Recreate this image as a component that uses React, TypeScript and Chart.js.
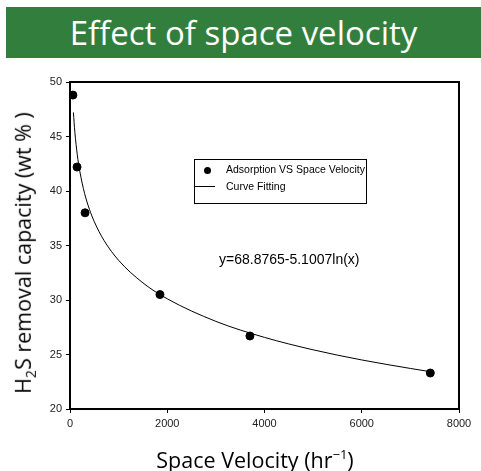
import React, { useEffect, useRef } from "react";
import { Chart, registerables } from "chart.js";

Chart.register(...registerables);

// Measured data (space velocity, hr^-1 ; H2S removal capacity, wt %)
const svPoints = [60, 145, 310, 1850, 3700, 7410];
const capacityPoints = [48.8, 42.2, 38.0, 30.5, 26.7, 23.3];

// Curve fitting line (y = 68.8765 - 5.1007 ln(x))
const fitX = [70, 100, 150, 200, 300, 400, 500, 700, 1000, 1500, 2000, 3000, 4000, 5000, 6000, 7000, 7400];
const fitY = [47.21, 45.39, 43.32, 41.85, 39.78, 38.32, 37.18, 35.46, 33.64, 31.57, 30.11, 28.04, 26.57, 25.43, 24.5, 23.72, 23.43];

const xTicks = [0, 2000, 4000, 6000, 8000];
const yTicks = [20, 25, 30, 35, 40, 45, 50];

const titleText = "Effect of space velocity";
const legendLabels = ["Adsorption VS Space Velocity", "Curve Fitting"];
const equationText = "y=68.8765-5.1007ln(x)";

const frame = {
  id: "frame",
  afterDatasetsDraw(chart: any) {
    const { ctx, chartArea } = chart;
    ctx.save();
    ctx.strokeStyle = "#000";
    ctx.lineWidth = 2;
    ctx.strokeRect(chartArea.left, chartArea.top, chartArea.right - chartArea.left, chartArea.bottom - chartArea.top);
    ctx.restore();
  },
};

export default function App() {
  const ref = useRef<HTMLCanvasElement | null>(null);

  useEffect(() => {
    if (!ref.current) return;
    const chart = new Chart(ref.current, {
      type: "scatter",
      data: {
        datasets: [
          {
            label: legendLabels[0],
            data: svPoints.map((x, i) => ({ x, y: capacityPoints[i] })),
            backgroundColor: "#000",
            borderColor: "#000",
            pointRadius: 4,
            pointHoverRadius: 4,
            showLine: false,
            order: 1,
          },
          {
            label: legendLabels[1],
            data: fitX.map((x, i) => ({ x, y: fitY[i] })),
            borderColor: "#000",
            borderWidth: 1,
            pointRadius: 0,
            showLine: true,
            cubicInterpolationMode: "monotone",
            order: 2,
          } as any,
        ],
      },
      options: {
        animation: false,
        responsive: false,
        maintainAspectRatio: false,
        layout: { padding: { left: 0, right: 22, top: 82, bottom: 0 } },
        plugins: { legend: { display: false }, tooltip: { enabled: false }, title: { display: false } },
        scales: {
          x: {
            type: "linear",
            min: 0,
            max: 8000,
            afterBuildTicks: (s: any) => {
              s.ticks = xTicks.map((v) => ({ value: v }));
            },
            afterFit: (s: any) => {
              s.height = 62;
            },
            grid: { drawOnChartArea: false, drawTicks: true, tickLength: 4, color: "#000", lineWidth: 1 },
            border: { display: true, color: "#000", width: 2 },
            ticks: {
              color: "#222",
              font: { family: "Liberation Sans, Arial", size: 11 },
              padding: 4,
              maxRotation: 0,
              callback: (v: any) => String(v),
            },
          },
          y: {
            type: "linear",
            min: 20,
            max: 50,
            afterBuildTicks: (s: any) => {
              s.ticks = yTicks.map((v) => ({ value: v }));
            },
            afterFit: (s: any) => {
              s.width = 70;
            },
            grid: { drawOnChartArea: false, drawTicks: true, tickLength: 4, color: "#000", lineWidth: 1 },
            border: { display: true, color: "#000", width: 2 },
            ticks: {
              color: "#222",
              font: { family: "Liberation Sans, Arial", size: 11 },
              padding: 4,
              callback: (v: any) => String(v),
            },
          },
        },
      },
      plugins: [frame],
    });
    return () => chart.destroy();
  }, []);

  return (
    <div style={{ position: "absolute", left: 0, top: 0, width: 481, height: 471, background: "#fff", overflow: "hidden" }}>
      <canvas ref={ref} width={481} height={471} style={{ position: "absolute", left: 0, top: 0, width: 481, height: 471 }} />
      <div
        style={{
          position: "absolute",
          left: 6,
          top: 7,
          width: 475,
          height: 51,
          background: "#327E3C",
          color: "#fff",
          fontFamily: "'Open Sans', 'Noto Sans', sans-serif",
          fontSize: 33,
          lineHeight: "51px",
          textAlign: "center",
          whiteSpace: "nowrap",
        }}
      >
        {titleText}
      </div>
      <div
        style={{
          position: "absolute",
          left: 24,
          top: 253,
          transform: "translate(-50%, -50%) rotate(-90deg)",
          fontFamily: "'Open Sans', 'Noto Sans', sans-serif",
          fontSize: 21.5,
          color: "#000",
          whiteSpace: "nowrap",
        }}
      >
        H<sub style={{ fontSize: 14 }}>2</sub>S removal capacity (wt % )
      </div>
      <div
        style={{
          position: "absolute",
          left: 255,
          top: 459,
          transform: "translate(-50%, -50%)",
          fontFamily: "'Open Sans', 'Noto Sans', sans-serif",
          fontSize: 21.5,
          color: "#000",
          whiteSpace: "nowrap",
        }}
      >
        Space Velocity (hr<sup style={{ fontSize: 13 }}>−1</sup>)
      </div>
      <div
        style={{
          position: "absolute",
          left: 194,
          top: 159,
          width: 173,
          height: 45,
          border: "1px solid #000",
          fontFamily: "'Liberation Sans', Arial, sans-serif",
          fontSize: 10.5,
          color: "#000",
          boxSizing: "border-box",
        }}
      >
        <div style={{ position: "absolute", left: 9, top: 7, width: 7, height: 7, borderRadius: "50%", background: "#000" }} />
        <div style={{ position: "absolute", left: 31, top: 3, whiteSpace: "nowrap" }}>{legendLabels[0]}</div>
        <div style={{ position: "absolute", left: 0, top: 26, width: 20, height: 1, background: "#000" }} />
        <div style={{ position: "absolute", left: 31, top: 20, whiteSpace: "nowrap" }}>{legendLabels[1]}</div>
      </div>
      <div
        style={{
          position: "absolute",
          left: 219,
          top: 251,
          fontFamily: "'Liberation Sans', Arial, sans-serif",
          fontSize: 14,
          color: "#000",
          whiteSpace: "nowrap",
        }}
      >
        {equationText}
      </div>
    </div>
  );
}
